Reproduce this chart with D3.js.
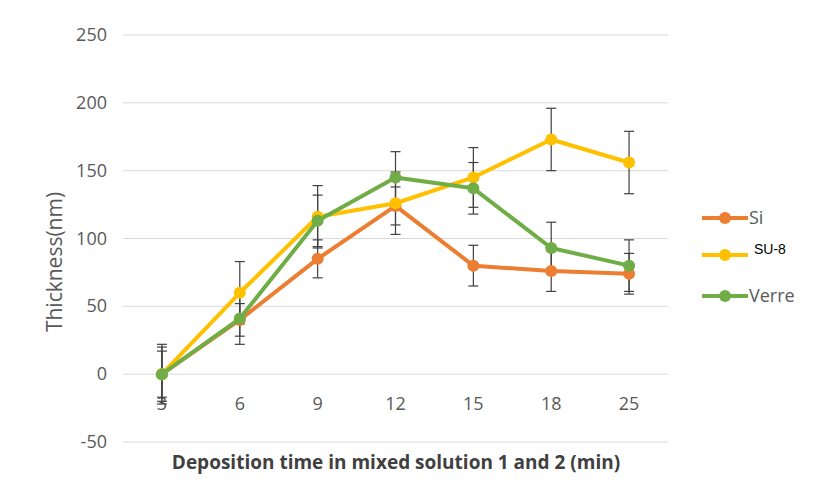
<!DOCTYPE html>
<html>
<head>
<meta charset="utf-8">
<script src="https://cdn.jsdelivr.net/npm/d3@7"></script>
<style>
  body { margin: 0; background: #fff; }
  svg { font-family: "Open Sans", Lato, sans-serif; }
</style>
</head>
<body>
<script>
const times = ["3", "6", "9", "12", "15", "18", "25"]
const yTicks = [-50, 0, 50, 100, 150, 200, 250]

const siValues = [0, 40, 85, 124, 80, 76, 74]
const su8Values = [0, 60, 116, 126, 145, 173, 156]
const verreValues = [0, 41, 113, 145, 137, 93, 80]

const siErr = [17, 12, 14, 14, 15, 15, 15]
const su8Err = [22, 23, 23, 23, 22, 23, 23]
const verreErr = [20, 19, 19, 19, 19, 19, 19]

const seriesNames = ["Si", "SU-8", "Verre"]
const colors = ["#ED7D31", "#FFC000", "#70AD47"]

const series = [
    { name: seriesNames[0], values: siValues, err: siErr, color: colors[0] },
    { name: seriesNames[1], values: su8Values, err: su8Err, color: colors[1] },
    { name: seriesNames[2], values: verreValues, err: verreErr, color: colors[2] }
]

const svg = d3.select("body").append("svg")
    .attr("width", 817)
    .attr("height", 483)

const x = d3.scalePoint()
    .domain(times)
    .range([123, 668])
    .padding(0.5)

const y = d3.scaleLinear()
    .domain([-50, 250])
    .range([442, 35])

// gridlines
svg.append("g")
    .selectAll("line")
    .data(yTicks)
    .enter()
    .append("line")
    .attr("x1", 123)
    .attr("x2", 668)
    .attr("y1", d => y(d))
    .attr("y2", d => y(d))
    .attr("stroke", "#d9d9d9")
    .attr("stroke-width", 1)

// y tick labels
svg.append("g")
    .selectAll("text")
    .data(yTicks)
    .enter()
    .append("text")
    .attr("x", 107)
    .attr("y", d => y(d) + 6)
    .attr("text-anchor", "end")
    .attr("font-size", 18)
    .attr("fill", "#595959")
    .text(d => d)

// x tick labels
svg.append("g")
    .selectAll("text")
    .data(times)
    .enter()
    .append("text")
    .attr("x", d => x(d))
    .attr("y", 410)
    .attr("text-anchor", "middle")
    .attr("font-size", 18)
    .attr("fill", "#595959")
    .text(d => d)

// error bars
series.forEach(s => {
    const g = svg.append("g")
    const pts = times.map((t, i) => ({ t, v: s.values[i], e: s.err[i] }))
    g.selectAll("line.bar")
        .data(pts)
        .enter()
        .append("line")
        .attr("x1", d => x(d.t))
        .attr("x2", d => x(d.t))
        .attr("y1", d => y(d.v + d.e))
        .attr("y2", d => y(d.v - d.e))
        .attr("stroke", "#404040")
        .attr("stroke-width", 1.2)
    ;[1, -1].forEach(sign => {
        g.selectAll("line.cap" + sign)
            .data(pts)
            .enter()
            .append("line")
            .attr("x1", d => x(d.t) - 5)
            .attr("x2", d => x(d.t) + 5)
            .attr("y1", d => y(d.v + sign * d.e))
            .attr("y2", d => y(d.v + sign * d.e))
            .attr("stroke", "#404040")
            .attr("stroke-width", 1.2)
    })
})

// lines and markers
const line = d3.line()
    .x((d, i) => x(times[i]))
    .y(d => y(d))

series.forEach(s => {
    svg.append("path")
        .datum(s.values)
        .attr("d", line)
        .attr("fill", "none")
        .attr("stroke", s.color)
        .attr("stroke-width", 4)
        .attr("stroke-linejoin", "round")
    svg.append("g")
        .selectAll("circle")
        .data(s.values)
        .enter()
        .append("circle")
        .attr("cx", (d, i) => x(times[i]))
        .attr("cy", d => y(d))
        .attr("r", 6)
        .attr("fill", s.color)
})

// legend
const legendY = [218, 255, 296]
const legend = svg.append("g")
series.forEach((s, i) => {
    legend.append("line")
        .attr("x1", 702)
        .attr("x2", 748)
        .attr("y1", legendY[i])
        .attr("y2", legendY[i])
        .attr("stroke", s.color)
        .attr("stroke-width", 4)
    legend.append("circle")
        .attr("cx", 725)
        .attr("cy", legendY[i])
        .attr("r", 6)
        .attr("fill", s.color)
    legend.append("text")
        .attr("x", s.name == "SU-8" ? 754 : 749)
        .attr("y", s.name == "SU-8" ? legendY[i] - 1 : legendY[i] + 6)
        .attr("font-size", s.name == "SU-8" ? 14 : 18)
        .attr("font-family", s.name == "SU-8" ? "Liberation Sans, Arial, sans-serif" : null)
        .attr("fill", s.name == "SU-8" ? "#000" : "#595959")
        .text(s.name)
})

// axis titles
svg.append("text")
    .attr("transform", "translate(62,262) rotate(-90)")
    .attr("text-anchor", "middle")
    .attr("font-size", 21)
    .attr("fill", "#595959")
    .text("Thickness(nm)")

svg.append("text")
    .attr("x", 396)
    .attr("y", 469)
    .attr("text-anchor", "middle")
    .attr("font-size", 19)
    .attr("font-weight", "bold")
    .attr("fill", "#404040")
    .text("Deposition time in mixed solution 1 and 2 (min)")
</script>
</body>
</html>
